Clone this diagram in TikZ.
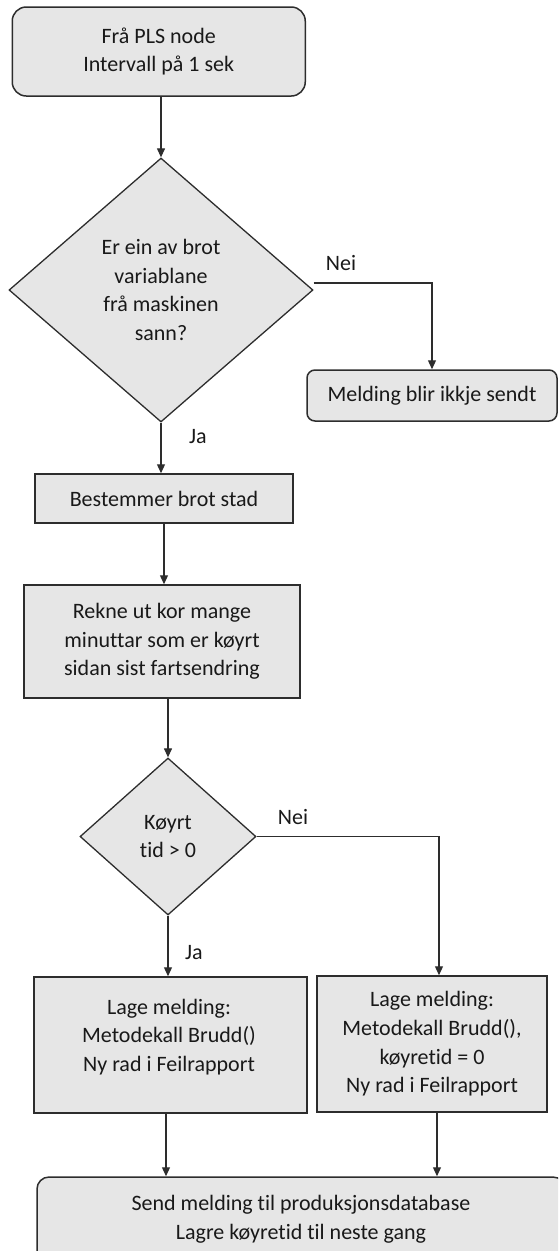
\documentclass[tikz,border=0pt]{standalone}
\usepackage{fontspec}
\setmainfont{Carlito}[Ligatures=NoCommon]
\usetikzlibrary{shapes.geometric,arrows.meta}
\definecolor{boxfill}{RGB}{230,230,230}
\definecolor{edge}{RGB}{45,45,45}
\definecolor{ink}{RGB}{25,25,25}
\begin{document}
\begin{tikzpicture}[x=1pt,y=-1pt,
  every node/.style={font=\fontsize{22}{28.7}\selectfont, text=ink, align=center, inner sep=0pt},
  proc/.style={draw=edge, fill=boxfill, line width=1.5pt, rectangle},
  term/.style={proc, rounded corners=#1},
  dec/.style={draw=edge, fill=boxfill, line width=1.3pt, diamond},
  flow/.style={draw=edge, line width=1.2pt, -{Triangle[length=9pt,width=8pt]}}
]
\useasboundingbox (0,0) rectangle (558,1251);
\clip (0,0) rectangle (558,1251);

% start
\node[term=14pt, minimum width=293pt, minimum height=89pt] (start) at (158.75,51.5)
  {Frå PLS node\\Intervall på 1 sek};

% first decision
\node[dec, minimum width=304pt, minimum height=264pt] (d1) at (161,290)
  {Er ein av brot\\variablane\\frå maskinen\\sann?};

\node[term=8pt, minimum width=250pt, minimum height=51pt] (nosend) at (432,395.5)
  {Melding blir ikkje sendt};

\node[proc, minimum width=258pt, minimum height=49pt] (stad) at (164,498.5)
  {Bestemmer brot stad};

\node[proc, minimum width=276pt, minimum height=113pt] (rekne) at (162,641.5)
  {Rekne ut kor mange\\minuttar som er køyrt\\sidan sist fartsendring};

% second decision
\node[dec, minimum width=176pt, minimum height=157pt] (d2) at (168,836.5)
  {Køyrt\\tid > 0};

% message boxes
\node[proc, minimum width=273pt, minimum height=136pt] (msgA) at (170.5,1045) {};
\node (msgAtext) at (169,1037) {Lage melding:\\Metodekall Brudd()\\Ny rad i Feilrapport};

\node[proc, minimum width=230pt, minimum height=136pt] (msgB) at (432,1044)
  {Lage melding:\\Metodekall Brudd(),\\køyretid = 0\\Ny rad i Feilrapport};

% end
\node[term=12pt, minimum width=528pt, minimum height=85pt] (final) at (301,1219.5)
  {Send melding til produksjonsdatabase\\Lagre køyretid til neste gang};

% connectors
\draw[flow] (d1.north |- start.south) -- (d1.north);
\draw[flow] ([yshift=7pt]d1.east) -| (nosend.north);
\node (nei1) at (341,263) {Nei};
\draw[flow] (d1.south) -- (d1.south |- stad.north);
\node (ja1) at (198,437) {Ja};
\draw[flow] (stad.south) -- (stad.south |- rekne.north);
\draw[flow] (d2.north |- rekne.south) -- (d2.north);
\draw[flow] (d2.east) -| ([xshift=7pt]msgB.north);
\node (nei2) at (293,817) {Nei};
\draw[flow] (d2.south) -- (d2.south |- msgA.north);
\node (ja2) at (194,953) {Ja};
\draw[flow] ([xshift=-4.5pt]msgA.south) -- ([xshift=-4.5pt]msgA.south |- final.north);
\draw[flow] ([xshift=5pt]msgB.south) -- ([xshift=5pt]msgB.south |- final.north);
\end{tikzpicture}
\end{document}
